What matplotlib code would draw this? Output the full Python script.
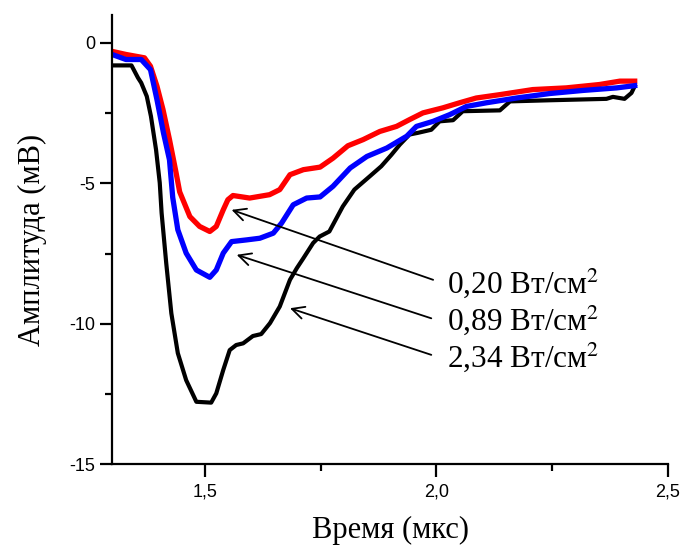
import matplotlib
matplotlib.use("Agg")
import matplotlib.pyplot as plt
from matplotlib.ticker import MultipleLocator, FuncFormatter

plt.rcParams['mathtext.fontset'] = 'stix'

# 2,34 W/cm2
t_black = [1.30, 1.342, 1.356, 1.363, 1.375, 1.384, 1.395, 1.403, 1.407, 1.417, 1.428,
           1.442, 1.46, 1.482, 1.514, 1.525, 1.54, 1.554, 1.568, 1.583, 1.604, 1.622,
           1.641, 1.662, 1.684, 1.699, 1.713, 1.734, 1.748, 1.769, 1.798, 1.823, 1.856,
           1.881, 1.903, 1.921, 1.942, 1.96, 1.989, 2.007, 2.036, 2.057, 2.137, 2.159,
           2.245, 2.367, 2.381, 2.406, 2.421, 2.428]
a_black = [-0.8, -0.8, -1.24, -1.42, -1.9, -2.61, -3.8, -4.98, -6.05, -7.84, -9.62,
           -11.04, -12.0, -12.77, -12.8, -12.47, -11.64, -10.93, -10.75, -10.69, -10.43, -10.36,
           -9.97, -9.38, -8.43, -8.01, -7.66, -7.12, -6.89, -6.71, -5.82, -5.22, -4.75,
           -4.39, -3.98, -3.62, -3.26, -3.2, -3.09, -2.79, -2.75, -2.43, -2.4, -2.08,
           -2.04, -1.99, -1.92, -1.99, -1.78, -1.54]

# 0,20 W/cm2
t_red = [1.30, 1.33, 1.37, 1.383, 1.397, 1.41, 1.424, 1.438, 1.446, 1.456, 1.468, 1.489,
         1.511, 1.525, 1.54, 1.55, 1.561, 1.597, 1.64, 1.662, 1.684, 1.713, 1.749, 1.777,
         1.809, 1.842, 1.878, 1.914, 1.942, 1.971, 2.014, 2.05, 2.086, 2.137, 2.208, 2.28,
         2.352, 2.396, 2.428]
a_red = [-0.3, -0.41, -0.53, -0.83, -1.54, -2.37, -3.44, -4.6, -5.3, -5.7, -6.18, -6.53,
         -6.71, -6.53, -5.94, -5.58, -5.43, -5.52, -5.4, -5.22, -4.69, -4.51, -4.42, -4.1,
         -3.66, -3.44, -3.15, -2.97, -2.73, -2.49, -2.31, -2.13, -1.96, -1.84, -1.66, -1.6,
         -1.48, -1.36, -1.36]

# 0,89 W/cm2
t_blue = [1.30, 1.33, 1.363, 1.383, 1.397, 1.411, 1.424, 1.431, 1.442, 1.46, 1.482, 1.511,
          1.525, 1.54, 1.558, 1.59, 1.619, 1.648, 1.666, 1.691, 1.72, 1.749, 1.777, 1.814,
          1.85, 1.893, 1.936, 1.957, 1.993, 2.029, 2.065, 2.108, 2.173, 2.245, 2.317, 2.389,
          2.428]
a_blue = [-0.41, -0.59, -0.59, -0.95, -2.02, -3.2, -4.16, -5.5, -6.65, -7.48, -8.08, -8.34,
          -8.08, -7.48, -7.07, -7.01, -6.95, -6.77, -6.41, -5.76, -5.52, -5.48, -5.1, -4.45,
          -4.04, -3.74, -3.32, -2.97, -2.79, -2.55, -2.26, -2.13, -1.96, -1.8, -1.69, -1.6,
          -1.52]

labels = ['0,20 Вт/см$^2$', '0,89 Вт/см$^2$', '2,34 Вт/см$^2$']
label_pos = [(2.024, -8.9), (2.024, -10.21), (2.024, -11.52)]
arrow_heads = [(1.558, -5.94), (1.569, -7.54), (1.684, -9.44)]
arrow_tails = [(1.993, -8.43), (1.989, -9.80), (1.989, -11.10)]

fig = plt.figure(figsize=(6.81, 5.49), dpi=100)
ax = fig.add_axes([0.1645, 0.154, 0.8165, 0.819])

ax.plot(t_black, a_black, color='black', lw=3.0, solid_joinstyle='round')
ax.plot(t_red, a_red, color='#ff0000', lw=3.8, solid_joinstyle='round')
ax.plot(t_blue, a_blue, color='#0000ff', lw=3.8, solid_joinstyle='round')

for lab, pos, head, tail in zip(labels, label_pos, arrow_heads, arrow_tails):
    ax.annotate('', xy=head, xytext=tail,
                arrowprops=dict(arrowstyle='->', lw=1.3, color='black',
                                mutation_scale=22, shrinkA=0, shrinkB=0))
    ax.text(pos[0], pos[1], lab, ha='left', va='baseline',
            family='Liberation Serif', fontsize=22.5)

ax.set_xlim(1.3, 2.5)
ax.set_ylim(-15, 1)
ax.xaxis.set_major_locator(MultipleLocator(0.5))
ax.xaxis.set_minor_locator(MultipleLocator(0.25))
ax.yaxis.set_major_locator(MultipleLocator(5))
ax.yaxis.set_minor_locator(MultipleLocator(2.5))
ax.xaxis.set_major_formatter(FuncFormatter(lambda v, p: ('%.1f' % v).replace('.', ',')))
ax.yaxis.set_major_formatter(FuncFormatter(lambda v, p: '%d' % v))

for s in ['top', 'right']:
    ax.spines[s].set_visible(False)
for s in ['left', 'bottom']:
    ax.spines[s].set_linewidth(1.6)

ax.tick_params(which='major', direction='out', length=9, width=1.6, labelsize=13)
ax.tick_params(axis='x', which='major', pad=5)
ax.tick_params(axis='y', which='major', pad=3)
ax.tick_params(which='minor', direction='out', length=5, width=1.6)
for lbl in ax.get_xticklabels() + ax.get_yticklabels():
    lbl.set_family('Liberation Sans')

ax.set_xlabel('Время (мкс)', family='Liberation Serif', fontsize=22, labelpad=11)
ax.set_ylabel('Амплитуда (мВ)', family='Liberation Serif', fontsize=22, labelpad=16)

fig.savefig('out.png', dpi=100)
